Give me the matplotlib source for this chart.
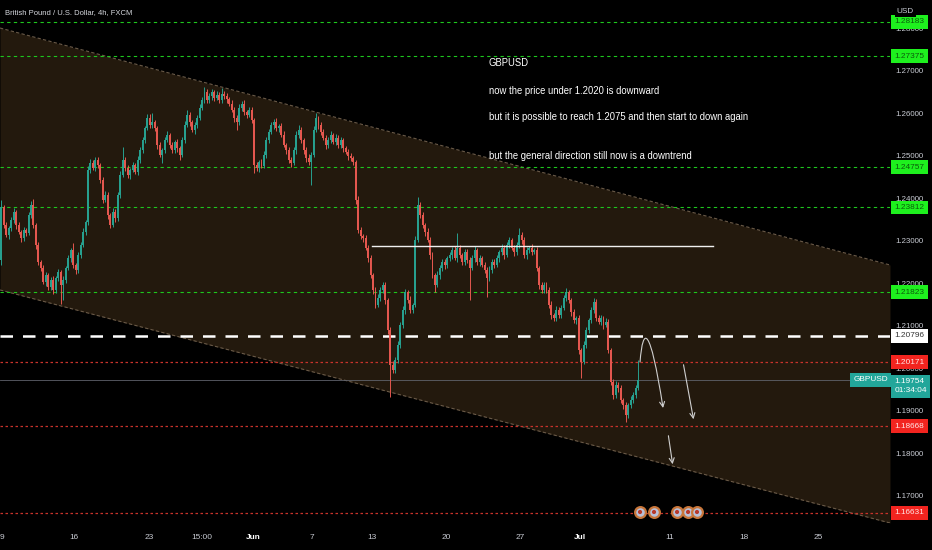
import matplotlib
matplotlib.use('Agg')
import matplotlib.pyplot as plt
from matplotlib import font_manager
from matplotlib.patches import FancyArrowPatch
from matplotlib.path import Path
import numpy as np

# ---------------- fonts ----------------
_names = {f.name for f in font_manager.fontManager.ttflist}
if 'Liberation Sans Narrow' in _names:
    FAM = ['Liberation Sans Narrow', 'DejaVu Sans']
    K = 1.0
elif 'Liberation Sans' in _names:
    FAM = ['Liberation Sans', 'DejaVu Sans']
    K = 0.86
else:
    FAM = ['DejaVu Sans']
    K = 0.78
plt.rcParams['font.family'] = FAM

# ---------------- data ----------------
title = "British Pound / U.S. Dollar, 4h, FXCM"
symbol = "GBPUSD"
currency = "USD"

first_open_pips = 12258
closes_pips = [
    12382, 12340, 12316, 12333, 12352, 12371, 12340, 12324, 12309, 12328,
    12321, 12364, 12387, 12340, 12293, 12253, 12239, 12206, 12222, 12194,
    12211, 12187, 12215, 12229, 12199, 12211, 12239, 12262, 12281, 12246,
    12234, 12269, 12293, 12324, 12347, 12469, 12486, 12474, 12493, 12481,
    12446, 12399, 12411, 12364, 12340, 12371, 12356, 12411, 12458, 12493,
    12474, 12458, 12469, 12481, 12465, 12493, 12516, 12540, 12568, 12592,
    12575, 12582, 12568, 12528, 12505, 12516, 12540, 12552, 12528, 12516,
    12535, 12521, 12505, 12540, 12575, 12599, 12582, 12564, 12575, 12592,
    12615, 12634, 12653, 12634, 12644, 12653, 12639, 12646, 12634, 12648,
    12644, 12636, 12625, 12611, 12592, 12582, 12615, 12625, 12606, 12599,
    12611, 12587, 12481, 12474, 12488, 12479, 12505, 12540, 12559, 12575,
    12582, 12568, 12573, 12552, 12528, 12516, 12493, 12486, 12516, 12552,
    12564, 12540, 12516, 12498, 12488, 12505, 12564, 12592, 12575, 12559,
    12545, 12528, 12540, 12552, 12535, 12545, 12528, 12540, 12521, 12512,
    12502, 12498, 12488, 12399, 12328, 12314, 12309, 12286, 12262, 12222,
    12187, 12152, 12168, 12187, 12199, 12164, 12093, 12011, 11999, 12022,
    12058, 12105, 12140, 12182, 12164, 12140, 12152, 12305, 12387, 12364,
    12340, 12324, 12305, 12269, 12222, 12199, 12222, 12239, 12253, 12246,
    12262, 12269, 12281, 12262, 12286, 12269, 12253, 12276, 12258, 12239,
    12262, 12281, 12253, 12262, 12246, 12234, 12215, 12234, 12253, 12246,
    12262, 12276, 12286, 12269, 12293, 12305, 12286, 12276, 12293, 12316,
    12305, 12269, 12281, 12286, 12276, 12281, 12239, 12199, 12187, 12199,
    12187, 12152, 12128, 12121, 12140, 12128, 12145, 12168, 12182, 12164,
    12135, 12116, 12121, 12046, 12018, 12058, 12093, 12116, 12140, 12159,
    12121, 12112, 12121, 12105, 12112, 12046, 11971, 11940, 11964, 11956,
    11928, 11916, 11893, 11916, 11928, 11940, 11956, 11975,
]
wick_up_pips = [
    17, 6, 8, 5, 7, 9, 4, 6, 5, 8, 6, 7, 9, 14, 5, 6, 4, 7, 8, 5,
    6, 8, 5, 7, 6, 9, 5, 8, 6, 17, 5, 7, 6, 8, 5, 9, 10, 6, 8, 7,
    5, 6, 9, 7, 5, 8, 6, 7, 9, 31, 6, 8, 5, 7, 6, 9, 7, 8, 6, 10,
    8, 22, 6, 5, 7, 6, 8, 9, 5, 7, 6, 8, 5, 7, 9, 12, 6, 5, 8, 7,
    9, 8, 12, 6, 7, 8, 5, 9, 6, 14, 7, 6, 5, 8, 6, 7, 9, 6, 8, 5,
    7, 6, 5, 8, 6, 7, 9, 8, 6, 7, 7, 9, 5, 6, 8, 5, 7, 6, 8, 9,
    11, 6, 5, 7, 8, 6, 9, 12, 5, 7, 8, 6, 7, 9, 5, 8, 6, 7, 5, 6,
    7, 8, 5, 6, 9, 7, 5, 8, 6, 7, 5, 8, 9, 6, 7, 8, 5, 6, 9, 7,
    8, 6, 9, 7, 6, 8, 5, 10, 19, 6, 7, 5, 8, 6, 7, 5, 9, 6, 8, 7,
    6, 8, 7, 9, 35, 6, 5, 8, 7, 6, 8, 9, 6, 7, 5, 8, 6, 9, 7, 6,
    7, 6, 9, 8, 6, 7, 5, 8, 6, 17, 7, 6, 8, 5, 9, 6, 7, 5, 8, 6,
    7, 6, 8, 5, 9, 7, 6, 8, 10, 6, 5, 7, 6, 8, 5, 9, 7, 6, 8, 9,
    6, 7, 8, 5, 9, 6, 5, 7, 8, 6, 7, 5, 8, 6, 9, 7, 8, 47,
]
wick_dn_pips = [
    11, 7, 5, 8, 6, 7, 9, 5, 8, 6, 7, 5, 8, 6, 9, 7, 8, 6, 10, 7,
    8, 9, 6, 7, 44, 35, 7, 6, 8, 7, 9, 6, 7, 5, 8, 6, 7, 5, 6, 8,
    7, 8, 6, 9, 7, 5, 8, 6, 7, 6, 8, 7, 9, 5, 6, 7, 8, 6, 7, 5,
    6, 7, 8, 9, 6, 19, 7, 5, 8, 6, 7, 9, 12, 6, 7, 5, 8, 6, 9, 7,
    6, 5, 7, 8, 6, 9, 7, 5, 8, 6, 7, 8, 6, 5, 9, 18, 7, 6, 8, 7,
    6, 8, 19, 7, 9, 6, 5, 8, 7, 6, 8, 7, 9, 6, 5, 8, 7, 10, 6, 8,
    7, 6, 8, 9, 7, 54, 6, 5, 8, 7, 6, 9, 7, 8, 5, 6, 8, 7, 9, 6,
    8, 7, 6, 9, 8, 7, 10, 6, 8, 7, 9, 8, 6, 7, 8, 9, 10, 76, 8, 7,
    6, 8, 7, 9, 8, 6, 7, 5, 6, 8, 7, 9, 6, 8, 7, 17, 6, 8, 7, 9,
    7, 6, 8, 5, 9, 7, 6, 8, 7, 75, 6, 8, 7, 9, 6, 8, 44, 7, 6, 8,
    6, 8, 7, 9, 5, 7, 6, 8, 7, 6, 9, 7, 8, 6, 7, 5, 8, 9, 7, 6,
    8, 7, 9, 6, 8, 7, 6, 5, 7, 8, 9, 7, 8, 10, 38, 6, 7, 8, 6, 7,
    8, 6, 7, 9, 6, 8, 7, 9, 6, 8, 7, 8, 17, 6, 7, 8, 6, 5,
]

# x axis in trading days from May 9 (weekends removed), 6 bars per day
x_tick_days = [0, 5, 10, 13.58, 17, 21, 25, 30, 35, 39, 45, 50, 55]
x_tick_labels = ['9', '16', '23', '15:00', 'Jun', '7', '13', '20', '27', 'Jul', '11', '18', '25']
x_tick_bold = ['Jun', 'Jul']

y_ticks = [1.17, 1.18, 1.19, 1.20, 1.21, 1.22, 1.23, 1.24, 1.25, 1.26, 1.27, 1.28]

levels_green = [1.28183, 1.27375, 1.24757, 1.23812, 1.21823]
levels_red = [1.20171, 1.18668, 1.16631]
level_white = 1.20796
last_price = 1.19754
countdown = "01:34:04"

channel_days = [0.0, 59.85]
channel_upper = [1.28035, 1.22459]
channel_lower = [1.21871, 1.16388]

resist_days = [25.0, 47.95]
resist_price = 1.2290

note_day = 32.88
note_lines = [
    ("GBPUSD", 1.27212),
    ("now the price under 1.2020 is downward", 1.26553),
    ("but it is possible to reach 1.2075 and then start to down again", 1.25941),
    ("but the general direction still now is a downtrend", 1.25024),
]

# hand-drawn projection arrows (day, price)
arrow_curve = [(43.04, 1.20176), (43.24, 1.21047), (43.71, 1.21047), (44.59, 1.19094)]
arrow_two = [(45.93, 1.20176), (46.67, 1.18765)]
arrow_three = [(44.92, 1.18506), (45.26, 1.17706)]

event_days = [43.04, 43.98, 45.53, 46.27, 46.87]
event_price = 1.16647

# ---------------- style ----------------
BG = '#000000'
FILL = '#23190d'
UP = '#27a08f'
DN = '#e4574f'
GREEN = '#1ec71e'
RED = '#c8322b'
AXTXT = '#c9ccd4'
TEAL = '#22a69a'

fig = plt.figure(figsize=(9.32, 5.5), dpi=100, facecolor=BG)
ax = fig.add_axes([0, 27 / 550, 890 / 932, 523 / 550])
ax.set_facecolor(BG)
ax.set_xlim(0, 59.85)
ax.set_ylim(1.16388, 1.28694)
for s in ax.spines.values():
    s.set_visible(False)
ax.set_xticks([])
ax.set_yticks([])

# channel
ax.fill_between(channel_days, channel_lower, channel_upper, color=FILL, zorder=1, linewidth=0)
ax.plot(channel_days, channel_upper, color='#6a5a48', lw=0.8, ls=(0, (3, 2)), zorder=2)
ax.plot(channel_days, channel_lower, color='#6a5a48', lw=0.8, ls=(0, (3, 2)), zorder=2)

# levels
for lv in levels_green:
    ax.axhline(lv, color=GREEN, lw=0.8, ls=(0, (3, 3)), zorder=3)
for lv in levels_red:
    ax.axhline(lv, color=RED, lw=0.9, ls=(0, (2, 2)), zorder=3)
ax.axhline(level_white, color='white', lw=1.8, ls=(0, (5, 4)), zorder=3)
ax.axhline(last_price, color='#5f626b', lw=0.6, zorder=3)
ax.plot(resist_days, [resist_price, resist_price], color='#f0f0f0', lw=1.0, zorder=6)

# candles
c = np.array(closes_pips, dtype=float) / 1e4
o = np.concatenate([[first_open_pips / 1e4], c[:-1]])
n = len(c)
wu = np.array(wick_up_pips[:n], dtype=float) / 1e4
wd = np.array(wick_dn_pips[:n], dtype=float) / 1e4
hi = np.maximum(o, c) + wu
lo = np.minimum(o, c) - wd
xs = (np.arange(n) + 0.5) / 6.0
cols = np.where(c >= o, UP, DN)
ax.vlines(xs, lo, hi, colors=cols, lw=0.7, zorder=4)
body = np.maximum(np.abs(c - o), 0.00008)
ax.bar(xs, body, bottom=np.minimum(o, c), width=0.13, color=cols, linewidth=0, zorder=5)

# arrows
acol = '#cfcfcf'
p = Path(arrow_curve, [Path.MOVETO, Path.CURVE4, Path.CURVE4, Path.CURVE4])
ax.add_patch(FancyArrowPatch(path=p, arrowstyle='->', mutation_scale=9, color=acol, lw=0.8, zorder=7))
for a in (arrow_two, arrow_three):
    ax.add_patch(FancyArrowPatch(a[0], a[1], arrowstyle='->', mutation_scale=9, color=acol, lw=0.8, zorder=7))

# event markers
ax.scatter(event_days, [event_price] * len(event_days), s=60, facecolor='#b8c0d8',
           edgecolor='#c8763a', linewidth=1.6, zorder=8)
ax.scatter(event_days, [event_price] * len(event_days), s=9, facecolor='#b8392b',
           edgecolor='none', zorder=9)

# notes
for txt, yp in note_lines:
    ax.text(note_day, yp, txt, color='white', fontsize=8.0 * K, va='center', ha='left', zorder=10)

# title
fig.text(5 / 932, 1 - 13 / 550, title, color='#d6d8de', fontsize=6.4 * K, va='center', ha='left')

# right axis
yt = ax.get_yaxis_transform()
for v in y_ticks:
    ax.text(1.0056, v, f"{v:.5f}", transform=yt, color=AXTXT, fontsize=6.6 * K,
            va='center', ha='left', clip_on=False, zorder=20)

def box(price, text, face, tcol):
    ax.text(1.0050, price, text, transform=yt, color=tcol, fontsize=6.9 * K, va='center', ha='left',
            clip_on=False, zorder=30,
            bbox=dict(boxstyle='square,pad=0.42', facecolor=face, edgecolor='none'))

for lv in levels_green:
    box(lv, f"{lv:.5f}", '#1ef01e', '#0b5a0b')
for lv in levels_red:
    box(lv, f"{lv:.5f}", '#f2241f', '#ffe6e6')
box(level_white, f"{level_white:.5f}", '#ffffff', '#333333')

ax.text(1.0050, last_price - 0.00150, f"{last_price:.5f}\n{countdown}", transform=yt, color='white',
        fontsize=6.9 * K, va='center', ha='left', linespacing=1.45, clip_on=False, zorder=31,
        bbox=dict(boxstyle='square,pad=0.42', facecolor=TEAL, edgecolor='none'))
ax.text(0.9975, last_price, symbol, transform=yt, color='white', fontsize=6.9 * K, va='center',
        ha='right', clip_on=False, zorder=31,
        bbox=dict(boxstyle='square,pad=0.42', facecolor=TEAL, edgecolor='none'))
ax.text(1.0075, 1.28430, currency, transform=yt, color=AXTXT, fontsize=6.8 * K, va='center', ha='left',
        clip_on=False, zorder=40,
        bbox=dict(boxstyle='square,pad=0.25', facecolor=BG, edgecolor='none'))

# bottom axis
xt = ax.get_xaxis_transform()
for d, lab in zip(x_tick_days, x_tick_labels):
    bold = lab in x_tick_bold
    ha = 'left' if d <= 0 else 'center'
    ax.text(d, -0.0268, lab, transform=xt, color='white' if bold else AXTXT,
            fontsize=6.9 * K, fontweight='bold' if bold else 'normal',
            va='center', ha=ha, clip_on=False, zorder=20)

fig.savefig('out.png', dpi=100, facecolor=BG)
